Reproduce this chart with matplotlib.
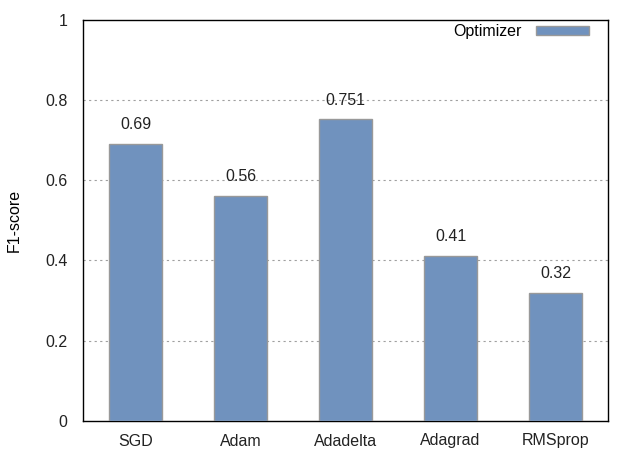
import matplotlib.pyplot as plt

optimizers = ['SGD', 'Adam', 'Adadelta', 'Adagrad', 'RMSprop']
f1_scores = [0.69, 0.56, 0.751, 0.41, 0.32]
value_labels = ['0.69', '0.56', '0.751', '0.41', '0.32']
y_ticks = [0, 0.2, 0.4, 0.6, 0.8, 1]
y_tick_labels = ['0', '0.2', '0.4', '0.6', '0.8', '1']

plt.rcParams['font.family'] = ['Liberation Sans', 'DejaVu Sans']
plt.rcParams['font.size'] = 11.5

fig = plt.figure(figsize=(6.39, 4.51), dpi=100)
ax = fig.add_axes([83 / 639, 30 / 451, 525 / 639, 401.5 / 451])

x = range(len(optimizers))
ax.bar(x, f1_scores, width=0.5, color='#7092be', edgecolor='#999999',
       linewidth=1, label='Optimizer', zorder=3)

# value labels above the bars
for xi, v, lab in zip(x, f1_scores, value_labels):
    ax.annotate(lab, (xi, v), xytext=(0, 14), textcoords='offset points',
                ha='center', va='center', color='#222222')

ax.set_xlim(-0.5, len(optimizers) - 0.5)
ax.set_ylim(0, 1)
ax.set_yticks(y_ticks)
ax.set_yticklabels(y_tick_labels)
ax.set_xticks(list(x))
ax.set_xticklabels(optimizers)
ax.tick_params(length=0, pad=9, colors='#222222')
ax.tick_params(axis='y', pad=11)
for yv in y_ticks[1:-1]:
    ax.axhline(yv, color='#a0a0a0', linestyle=(0, (2, 3)), linewidth=0.8, zorder=1)
for s in ax.spines.values():
    s.set_linewidth(1)
    s.set_color('black')

ax.set_ylabel('F1-score', labelpad=17)

leg = ax.legend(loc='upper right', frameon=False, markerfirst=False,
                handlelength=3.3, handleheight=0.5, borderaxespad=0.0,
                borderpad=0.0, handletextpad=0.9,
                bbox_to_anchor=(589 / 639, 1 - 24 / 451),
                bbox_transform=fig.transFigure)

fig.savefig('out.png', dpi=100)
